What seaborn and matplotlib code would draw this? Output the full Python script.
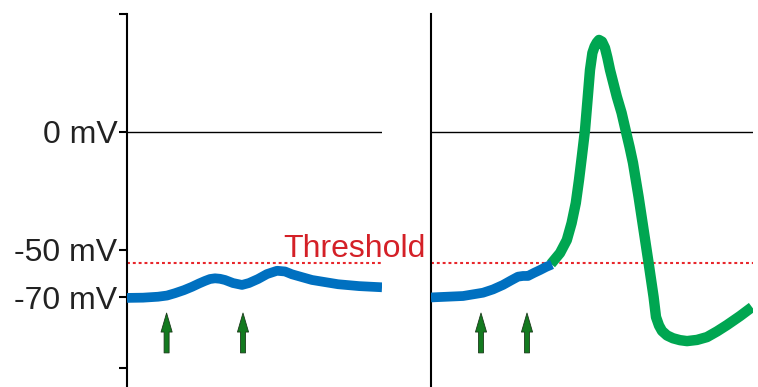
import numpy as np
import pandas as pd
import matplotlib
matplotlib.use("Agg")
import matplotlib.pyplot as plt
import seaborn as sns

# membrane potential traces, time in ms, voltage in mV
left_t = [0, 0.8, 1.55, 2.0, 2.4, 2.85, 3.25, 3.6, 3.9, 4.15, 4.4, 4.65, 4.9, 5.3,
          5.75, 6.1, 6.55, 7.0, 7.5, 7.9, 8.25, 9.25, 10.55, 11.6, 12.75]
left_v = [-70.3, -70.2, -69.8, -69.3, -68.3, -67.0, -65.6, -64.2, -63.1, -62.3, -62.0,
          -62.2, -62.7, -64.0, -64.8, -64.0, -62.3, -60.2, -58.8, -59.1, -60.3, -62.7,
          -64.5, -65.3, -65.8]

right_blue_t = [0, 1.6, 2.6, 3.1, 3.6, 4.0, 4.35, 4.6, 4.85, 5.15, 5.45, 5.75, 6.05]
right_blue_v = [-70.1, -69.5, -68.1, -66.7, -64.8, -62.9, -61.3, -61.0, -61.0, -59.7,
                -58.5, -57.2, -56.1]

spike_t = [6.0, 6.45, 6.79, 7.03, 7.24, 7.4, 7.54, 7.7, 7.84, 7.95, 8.07, 8.18, 8.29, 8.4,
           8.55, 8.7, 8.82, 8.95, 9.29, 9.53, 9.73, 9.93, 10.1, 10.38, 10.63, 10.88, 11.13,
           11.25, 11.4, 11.55, 11.8, 12.1, 12.45, 12.8, 13.3, 13.8, 14.3, 14.8, 15.45, 16.05]
spike_v = [-55.9, -51.3, -45.8, -38.6, -30.1, -20.3, -10.6, 0.8, 15.0, 26.3, 33.5, 36.2,
           37.9, 39.0, 38.3, 35.6, 31.5, 26.3, 15.0, 8.1, 0.8, -6.4, -13.1, -27.5, -41.5,
           -55.5, -69.9, -78.4, -82.0, -84.3, -86.2, -87.4, -88.2, -88.6, -88.1, -86.9,
           -84.5, -81.8, -78.0, -74.2]

left_stimuli = [1.98, 5.8]
right_stimuli = [2.5, 4.8]

tick_vals = [50, 0, -50, -70, -100]
tick_labels = ["", "0 mV", "-50 mV", "-70 mV", ""]
threshold = -55.5

sns.set_style("white")
plt.rcParams["font.family"] = ["Liberation Sans", "DejaVu Sans"]

BLUE = "#0070c0"
GREEN = "#00a651"
RED = "#e8262b"
ARROW = "#137a1f"

fig = plt.figure(figsize=(7.58, 3.87), dpi=100)
ax1 = fig.add_axes([127 / 758, 0, 255 / 758, 1])
ax2 = fig.add_axes([431 / 758, 0, 322 / 758, 1])

ylo, yhi = -108.05, 55.93


def setup(ax, xmax):
    ax.set_xlim(0, xmax)
    ax.set_ylim(ylo, yhi)
    for s in ["top", "right", "bottom"]:
        ax.spines[s].set_visible(False)
    ax.spines["left"].set_bounds(ylo, 50)
    ax.spines["left"].set_linewidth(1.5)
    ax.spines["left"].set_color("black")
    ax.set_xticks([])
    ax.axhline(0, color="black", lw=1.0, zorder=1)
    ax.axhline(threshold, color=RED, lw=1.5, ls=(0, (1.4, 1.4)), zorder=1)
    ax.set_xlabel("")
    ax.set_ylabel("")


def stim(ax, xs):
    for x in xs:
        ax.annotate("", xy=(x, -76.7), xytext=(x, -93.6),
                    arrowprops=dict(arrowstyle="simple,head_length=1.37,head_width=0.8,tail_width=0.36",
                                    fc=ARROW, ec="#1a3a1a", lw=0.6, shrinkA=0, shrinkB=0,
                                    mutation_scale=10))


left = pd.DataFrame({"t": left_t, "v": left_v})
rb = pd.DataFrame({"t": right_blue_t, "v": right_blue_v})
sp = pd.DataFrame({"t": spike_t, "v": spike_v})

sns.lineplot(data=left, x="t", y="v", ax=ax1, color=BLUE, lw=7, sort=False,
             solid_capstyle="butt", solid_joinstyle="round", zorder=3)
setup(ax1, 12.75)
ax1.set_yticks(tick_vals)
ax1.set_yticklabels(tick_labels, fontsize=23, color="#222222")
ax1.tick_params(axis="y", length=6, width=1.5, color="black", pad=1, left=True)
stim(ax1, left_stimuli)
ax1.text(7.8, -53, "Threshold", color="#d42027", fontsize=23, va="baseline",
         ha="left", clip_on=False)

sns.lineplot(data=sp, x="t", y="v", ax=ax2, color=GREEN, lw=7.5, sort=False,
             solid_capstyle="butt", solid_joinstyle="round", zorder=3)
sns.lineplot(data=rb, x="t", y="v", ax=ax2, color=BLUE, lw=7, sort=False,
             solid_capstyle="butt", solid_joinstyle="round", zorder=4)
setup(ax2, 16.1)
ax2.set_yticks([])
stim(ax2, right_stimuli)

fig.savefig("out.png", dpi=100)
